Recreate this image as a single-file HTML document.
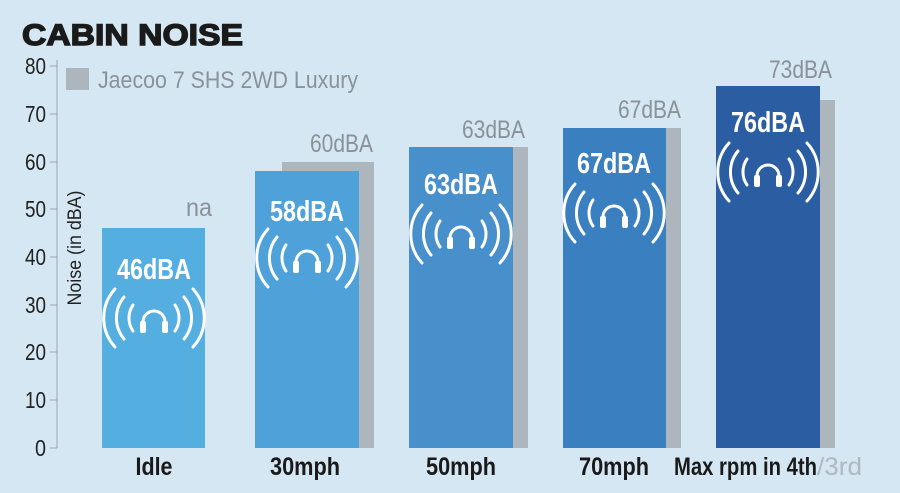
<!DOCTYPE html>
<html><head><meta charset="utf-8"><style>
html,body{margin:0;padding:0;background:#d4e7f3;}
svg{display:block;}
.t{font-family:"Liberation Sans",sans-serif;}
</style></head><body>
<svg width="900" height="493" viewBox="0 0 900 493" xmlns="http://www.w3.org/2000/svg">
<defs>
<g id="hp" fill="none" stroke="#fff" stroke-width="3" stroke-linecap="round">
<path d="M-11,12 v-6 a11,11 0 0 1 22,0 v6"/>
<rect x="-14" y="5" width="6" height="12" rx="2" fill="#fff" stroke="none"/>
<rect x="8" y="5" width="6" height="12" rx="2" fill="#fff" stroke="none"/>
<path d="M-21,-11 a23,23 0 0 0 0,26"/><path d="M21,-11 a23,23 0 0 1 0,26"/>
<path d="M-30,-19 a33,33 0 0 0 0,42"/><path d="M30,-19 a33,33 0 0 1 0,42"/>
<path d="M-39,-27 a43,43 0 0 0 0,58"/><path d="M39,-27 a43,43 0 0 1 0,58"/>
</g>
</defs>
<text x="22" y="45" font-family="Liberation Sans,sans-serif" font-weight="900" font-size="30" fill="#1a1a1a" stroke="#1a1a1a" stroke-width="1.4" textLength="221" lengthAdjust="spacingAndGlyphs">CABIN NOISE</text>
<line x1="57" y1="60" x2="57" y2="448" stroke="#9aa6ae" stroke-width="1"/>
<g stroke="#9aa6ae"><line x1="50" y1="66" x2="57" y2="66"/><line x1="50" y1="114" x2="57" y2="114"/><line x1="50" y1="162" x2="57" y2="162"/><line x1="50" y1="209" x2="57" y2="209"/><line x1="50" y1="257" x2="57" y2="257"/><line x1="50" y1="305" x2="57" y2="305"/><line x1="50" y1="352" x2="57" y2="352"/><line x1="50" y1="400" x2="57" y2="400"/><line x1="50" y1="448" x2="57" y2="448"/></g>
<g class="t" font-size="23" fill="#222" text-anchor="end">
<text x="46" y="74" textLength="21" lengthAdjust="spacingAndGlyphs">80</text><text x="46" y="122" textLength="21" lengthAdjust="spacingAndGlyphs">70</text><text x="46" y="170" textLength="21" lengthAdjust="spacingAndGlyphs">60</text><text x="46" y="217" textLength="21" lengthAdjust="spacingAndGlyphs">50</text><text x="46" y="265" textLength="21" lengthAdjust="spacingAndGlyphs">40</text><text x="46" y="313" textLength="21" lengthAdjust="spacingAndGlyphs">30</text><text x="46" y="360" textLength="21" lengthAdjust="spacingAndGlyphs">20</text><text x="46" y="408" textLength="21" lengthAdjust="spacingAndGlyphs">10</text><text x="46" y="456" textLength="11" lengthAdjust="spacingAndGlyphs">0</text>
</g>
<text class="t" transform="translate(81,248) rotate(-90)" text-anchor="middle" font-size="19" fill="#222" textLength="115" lengthAdjust="spacingAndGlyphs">Noise (in dBA)</text>
<rect x="66" y="68" width="23" height="22" fill="#adb6bd"/>
<text class="t" x="98" y="88" font-size="24" fill="#8a9298" textLength="260" lengthAdjust="spacingAndGlyphs">Jaecoo 7 SHS 2WD Luxury</text>
<g fill="#adb6bd">
<rect x="282" y="162" width="92" height="286"/>
<rect x="430" y="147" width="98" height="301"/>
<rect x="590" y="128" width="91" height="320"/>
<rect x="818" y="100" width="17" height="348"/>
</g>
<line x1="819" y1="87" x2="819" y2="100" stroke="#e8eef2" stroke-width="1"/>
<rect x="102" y="228" width="103" height="220" fill="#55aee0"/>
<rect x="255" y="171" width="104" height="277" fill="#4ea2d9"/>
<rect x="409" y="147" width="104" height="301" fill="#4890cc"/>
<rect x="563" y="128" width="103" height="320" fill="#3a7fc0"/>
<rect x="716" y="86" width="104" height="362" fill="#2b5da3"/>
<g class="t" font-weight="bold" font-size="29" fill="#fff" text-anchor="middle">
<text x="154" y="279" textLength="74" lengthAdjust="spacingAndGlyphs">46dBA</text>
<text x="307" y="221" textLength="74" lengthAdjust="spacingAndGlyphs">58dBA</text>
<text x="461" y="194" textLength="74" lengthAdjust="spacingAndGlyphs">63dBA</text>
<text x="614" y="173" textLength="74" lengthAdjust="spacingAndGlyphs">67dBA</text>
<text x="768" y="132" textLength="74" lengthAdjust="spacingAndGlyphs">76dBA</text>
</g>
<use href="#hp" x="154" y="316"/>
<use href="#hp" x="307" y="256"/>
<use href="#hp" x="461" y="232"/>
<use href="#hp" x="614" y="211"/>
<use href="#hp" x="768" y="170"/>
<g class="t" font-size="25" fill="#8a9298" text-anchor="end">
<text x="212" y="216" textLength="26" lengthAdjust="spacingAndGlyphs">na</text>
<text x="373" y="152" textLength="63" lengthAdjust="spacingAndGlyphs">60dBA</text>
<text x="525" y="138" textLength="63" lengthAdjust="spacingAndGlyphs">63dBA</text>
<text x="681" y="118" textLength="63" lengthAdjust="spacingAndGlyphs">67dBA</text>
<text x="832" y="78" textLength="63" lengthAdjust="spacingAndGlyphs">73dBA</text>
</g>
<g class="t" font-weight="bold" font-size="25" fill="#1a1a1a" text-anchor="middle">
<text x="154" y="475" textLength="37" lengthAdjust="spacingAndGlyphs">Idle</text>
<text x="305" y="475" textLength="70" lengthAdjust="spacingAndGlyphs">30mph</text>
<text x="461" y="475" textLength="70" lengthAdjust="spacingAndGlyphs">50mph</text>
<text x="614" y="475" textLength="70" lengthAdjust="spacingAndGlyphs">70mph</text>
<text x="674" y="475" text-anchor="start" textLength="143" lengthAdjust="spacingAndGlyphs">Max rpm in 4th</text>
<text x="817" y="475" text-anchor="start" fill="#b0b8be" font-weight="normal" textLength="45" lengthAdjust="spacingAndGlyphs">/3rd</text>
</g>
</svg>
</body></html>
